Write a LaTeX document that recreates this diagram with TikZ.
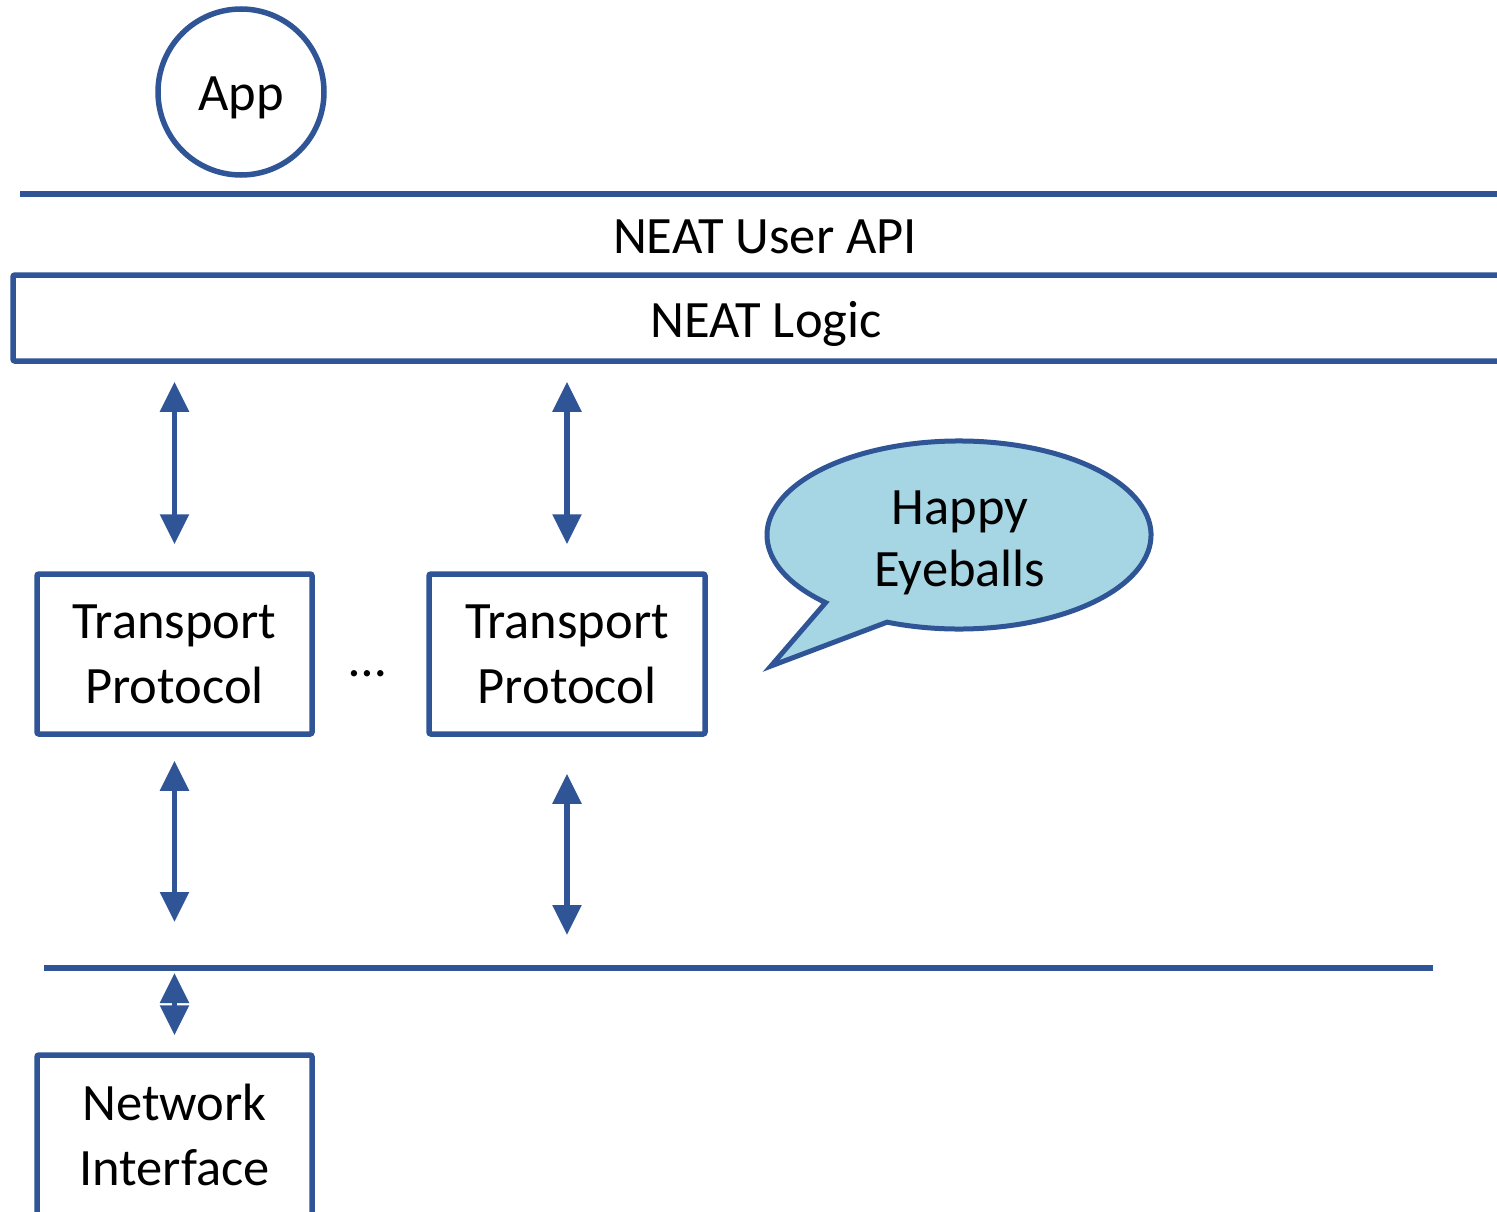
\documentclass[tikz,border=0pt]{standalone}
\usepackage{fontspec}
\setmainfont{Carlito}
\usetikzlibrary{arrows.meta,calc}
\definecolor{neatblue}{RGB}{47,85,151}
\definecolor{bubblefill}{RGB}{166,213,227}
\begin{document}
\begin{tikzpicture}[x=1pt,y=1pt,
  txt/.style={font=\fontsize{52.5}{65}\selectfont, text=black, align=center},
  layerline/.style={draw=neatblue, line width=5.5pt},
  boxnode/.style={draw=neatblue, line width=5.5pt, fill=white, rounded corners=2pt, txt, inner sep=0pt},
  biarrow/.style={draw=neatblue, line width=5.5pt, {Triangle[width=28pt,length=30pt]}-{Triangle[width=28pt,length=30pt]}}
]
\useasboundingbox (0,0) rectangle (1497,-1212);
\fill[white] (0,0) rectangle (1497,-1212);

% App
\node[circle, draw=neatblue, line width=5.5pt, fill=white, minimum size=166pt, inner sep=0pt] (app) at (241,-92) {};
\node[txt] (apptext) at (241,-98) {App};

% top line
\coordinate (l1a) at (20,-194);
\coordinate (l1b) at (1510,-194);
\draw[layerline] (l1a) -- (l1b);

\node[txt] (api) at (765,-237) {NEAT User API};

% NEAT logic
\node[boxnode, minimum width=1506pt, minimum height=86pt] (logic) at (766,-318) {};
\node[txt] (logictext) at (766,-324) {NEAT Logic};

% transport protocols
\node[boxnode, minimum width=275pt, minimum height=160pt] (tp1) at (174.5,-654) {Transport\\Protocol};
\node[boxnode, minimum width=276pt, minimum height=160pt] (tp2) at (567,-654) {Transport\\Protocol};
\node[txt, anchor=base] (dots) at (368,-676) {…};

% bottom line
\coordinate (l2a) at (44,-968);
\coordinate (l2b) at (1433,-968);
\draw[layerline] (l2a) -- (l2b);

% network interface
\node[boxnode, minimum width=275pt, minimum height=160pt] (ni) at (174.5,-1135) {Network\\Interface};

% arrows
\draw[biarrow] ([yshift=-18pt]logic.south -| tp1.north) -- ([yshift=27pt]tp1.north);
\draw[biarrow] ([yshift=-18pt]logic.south -| tp2.north) -- ([yshift=27pt]tp2.north);
\draw[biarrow] ([yshift=-24pt]tp1.south) -- ([yshift=46pt]l2a -| tp1.south);
\draw[biarrow] ([yshift=-37pt]tp2.south) -- ([yshift=33pt]l2a -| tp2.south);
\draw[biarrow] ([yshift=-5pt]l2a -| ni.north) -- ([yshift=17pt]ni.north);

% Happy Eyeballs callout
\coordinate (tip) at (771,-666);
\filldraw[draw=neatblue, fill=bubblefill, line width=5pt, line join=miter]
  ($(959,-535)+(248:192pt and 94pt)$) arc[start angle=248, end angle=586, x radius=192pt, y radius=94pt]
  -- (tip) -- cycle;
\node[txt, font=\fontsize{52.5}{62}\selectfont] (he) at (960,-543) {Happy\\Eyeballs};
\end{tikzpicture}
\end{document}
